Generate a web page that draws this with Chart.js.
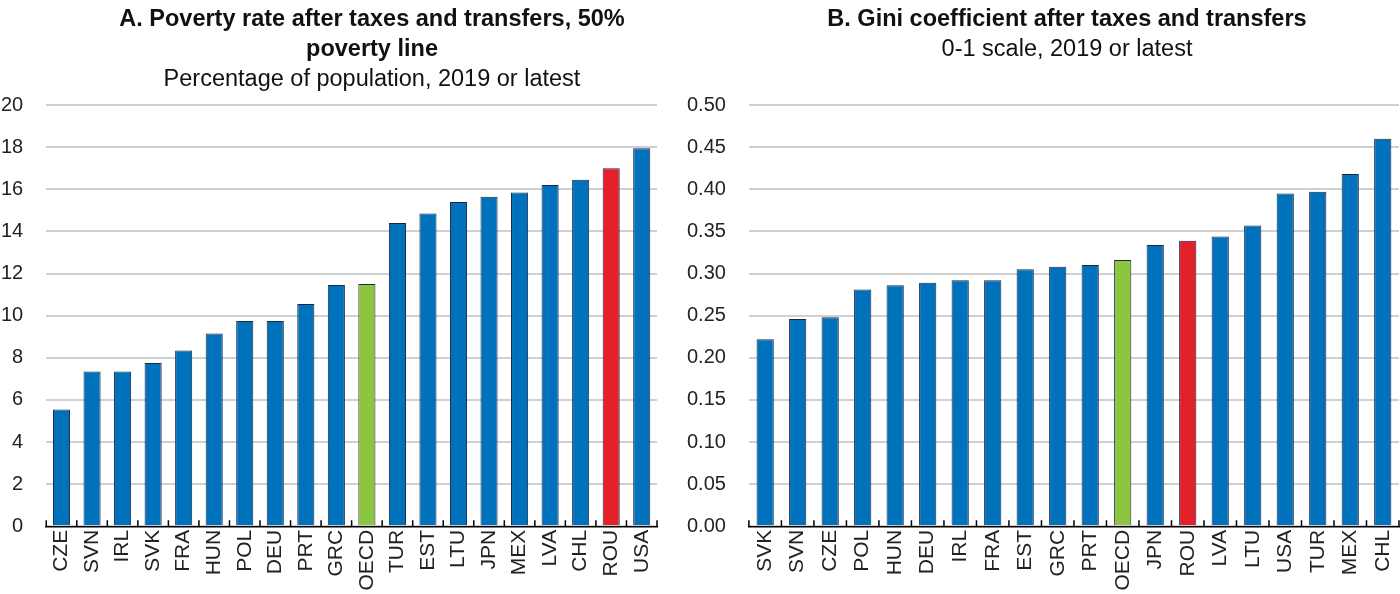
<!DOCTYPE html>
<html>
<head>
<meta charset="utf-8">
<script src="https://cdn.jsdelivr.net/npm/chart.js@4"></script>
<style>
  body { margin: 0; background: #fff; }
  #wrap { position: relative; width: 1400px; height: 594px; overflow: hidden; }
  .panel { position: absolute; top: 0; height: 594px; }
  #pa { left: -22px; width: 687px; }
  #pb { left: 657px; width: 743px; }
  .title {
    position: absolute; top: 3px; width: 600px; text-align: center;
    font-family: 'Liberation Sans', Arial, sans-serif; font-size: 23.5px;
    line-height: 30px; color: #111;
  }
  .title b { font-weight: bold; }
  #ta { left: 72px; }
  #tb { left: 767px; }
</style>
</head>
<body>
<div id="wrap">
  <div class="panel" id="pa"><canvas id="chartA"></canvas></div>
  <div class="panel" id="pb"><canvas id="chartB"></canvas></div>
  <div class="title" id="ta"><b>A. Poverty rate after taxes and transfers, 50%<br>poverty line</b><br>Percentage of population, 2019 or latest</div>
  <div class="title" id="tb"><b>B. Gini coefficient after taxes and transfers</b><br>0-1 scale, 2019 or latest</div>
</div>
<script>
var FONT = "'Liberation Sans', Arial, sans-serif";

// Panel A: poverty rate, % of population
var countriesA = ['CZE', 'SVN', 'IRL', 'SVK', 'FRA', 'HUN', 'POL', 'DEU', 'PRT', 'GRC', 'OECD', 'TUR', 'EST', 'LTU', 'JPN', 'MEX', 'LVA', 'CHL', 'ROU', 'USA'];
var povertyA = [5.55, 7.35, 7.35, 7.75, 8.35, 9.15, 9.75, 9.75, 10.55, 11.45, 11.5, 14.4, 14.85, 15.4, 15.65, 15.85, 16.2, 16.45, 17.0, 17.95];

// Panel B: Gini coefficient, 0-1 scale
var countriesB = ['SVK', 'SVN', 'CZE', 'POL', 'HUN', 'DEU', 'IRL', 'FRA', 'EST', 'GRC', 'PRT', 'OECD', 'JPN', 'ROU', 'LVA', 'LTU', 'USA', 'TUR', 'MEX', 'CHL'];
var giniB = [0.222, 0.246, 0.248, 0.281, 0.286, 0.289, 0.292, 0.292, 0.305, 0.308, 0.310, 0.316, 0.334, 0.339, 0.344, 0.357, 0.395, 0.397, 0.418, 0.460];

var BLUE = '#0072bc', GREEN = '#8cc63f', RED = '#e1202a';

function barColours(labels) {
  return labels.map(function (c) {
    if (c === 'OECD') return GREEN;
    if (c === 'ROU') return RED;
    return BLUE;
  });
}

// small tick marks between categories, pointing up from the axis line
var innerTicks = {
  id: 'innerTicks',
  afterDraw: function (chart) {
    var xs = chart.scales.x, ctx = chart.ctx;
    var n = chart.data.labels.length;
    var step = xs.getPixelForValue(1) - xs.getPixelForValue(0);
    var y = xs.top;
    ctx.save();
    ctx.strokeStyle = '#000';
    ctx.lineWidth = 1.5;
    ctx.beginPath();
    for (var i = 0; i <= n; i++) {
      var x = xs.getPixelForValue(i) - step / 2;
      ctx.moveTo(x, y);
      ctx.lineTo(x, y - 6);
    }
    ctx.stroke();
    ctx.restore();
  }
};

function makeChart(id, labels, values, yMax, yStep, decimals, barPct, pad) {
  return new Chart(document.getElementById(id), {
    type: 'bar',
    data: {
      labels: labels,
      datasets: [{
        data: values,
        backgroundColor: barColours(labels),
        borderColor: '#1c2448',
        borderWidth: 1,
        barPercentage: barPct,
        categoryPercentage: 1.0
      }]
    },
    options: {
      responsive: true,
      maintainAspectRatio: false,
      animation: false,
      layout: { padding: pad },
      plugins: {
        legend: { display: false },
        tooltip: { enabled: false }
      },
      scales: {
        x: {
          grid: { display: false, drawTicks: false },
          border: { display: true, color: '#000', width: 1.5 },
          ticks: {
            color: '#222',
            font: { family: FONT, size: 21 },
            maxRotation: 90,
            minRotation: 90,
            padding: 3.5,
            autoSkip: false
          },
          // the rotated labels fit inside their categories, no side padding needed
          afterFit: function (s) { s.paddingLeft = 0; s.paddingRight = 0; }
        },
        y: {
          min: 0,
          max: yMax,
          grid: { color: '#d0d0d0', lineWidth: 2, drawTicks: false },
          border: { display: false },
          ticks: {
            stepSize: yStep,
            color: '#222',
            font: { family: FONT, size: 20 },
            padding: 23,
            callback: function (v) { return Number(v).toFixed(decimals); }
          }
        }
      }
    },
    plugins: [innerTicks]
  });
}

makeChart('chartA', countriesA, povertyA, 20, 2, 0, 0.56,
  { left: 0, right: 8, top: 105, bottom: 0 });

makeChart('chartB', countriesB, giniB, 0.5, 0.05, 2, 0.53,
  { left: 7, right: 1, top: 105, bottom: 0 });
</script>
</body>
</html>
